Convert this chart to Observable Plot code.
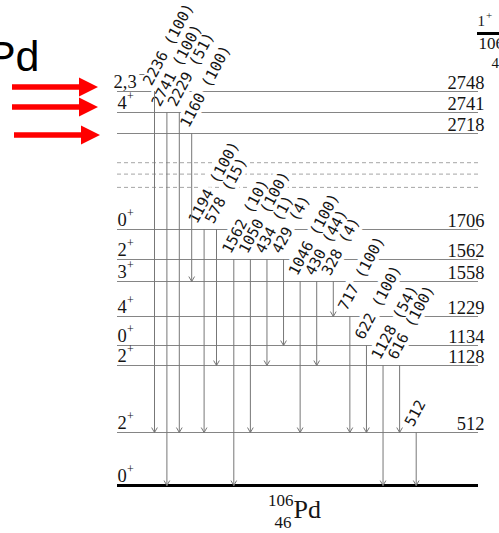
<!DOCTYPE html>
<html>
<head>
<meta charset="utf-8">
<script src="https://cdn.jsdelivr.net/npm/d3@7"></script>
<script src="https://cdn.jsdelivr.net/npm/@observablehq/plot@0.6"></script>
<style>
  html, body { margin: 0; padding: 0; background: #fff; }
</style>
</head>
<body>
<div id="chart"></div>
<script>
// Excited levels of 106Pd (keV), highest first
const levelEnergies = [2748, 2741, 2718, 1706, 1562, 1558, 1229, 1134, 1128, 512, 0];
// Spin and parity of each level ("" where none is assigned)
const levelSpins    = ["2,3", "4", "", "0", "2", "3", "4", "0", "2", "2", "0"];
const levelParities = ["\u2212", "+", "", "+", "+", "+", "+", "+", "+", "+", "+"];
// Unassigned levels, drawn dashed without labels
const tentativeLevels = [2410, 2290, 2150];
// Levels fed directly (red pointers)
const fedLevels = [2748, 2741, 2718];

// Gamma transitions, left to right: energy (keV), relative intensity, initial and final level
const gammaEnergies    = [2236, 2741, 2229, 1160, 1194, 578, 1562, 1050, 434, 429, 1046, 430, 328, 717, 622, 1128, 616, 512];
const gammaIntensities = [100, 100, 51, 100, 100, 15, 10, 100, 1, 4, 100, 44, 4, 100, 100, 54, 100, null];
const gammaFrom        = [2748, 2741, 2741, 2718, 1706, 1706, 1562, 1562, 1562, 1562, 1558, 1558, 1558, 1229, 1134, 1128, 1128, 512];
const gammaTo          = [512, 0, 512, 1558, 512, 1128, 0, 512, 1128, 1134, 512, 1128, 1229, 512, 512, 0, 512, 0];

// Scale setup: transition columns and level rows
const xDomain = [0, 5, 6, 17];
const xRange = [154, 216, 233.3, 415.7];
const yDomain = [0, 512, 1128, 1134, 1229, 1558, 1562, 1706, 2718, 2741, 2748];
const yRange = [485, 432, 365, 345, 316, 281, 259, 229, 133, 112, 91];

const levels = levelEnergies.map((E, i) => ({E, J: levelSpins[i], P: levelParities[i]}));
const gammas = gammaEnergies.map((e, i) => ({
  col: i,
  label: gammaIntensities[i] == null ? `${e}` : `${e} (${gammaIntensities[i]})`,
  from: gammaFrom[i],
  to: gammaTo[i]
}));

// Slanted labels of neighbouring transitions that leave the same level can crowd;
// slide the left one sideways until the two lines of text are far enough apart.
const angle = 62;
const colPx = d3.scaleLinear(xDomain, xRange);
const sinA = Math.sin(angle * Math.PI / 180);
const minGap = 14.5;
gammas.forEach((g, i) => {
  const next = gammas[i + 1];
  let shift = 0;
  if (next && next.from === g.from) {
    const gap = (colPx(next.col) - colPx(g.col)) * sinA;
    if (gap < minGap) shift = (minGap - gap) / sinA;
  }
  g.labelCol = colPx.invert(colPx(g.col) - shift);
});

const serif = "Liberation Serif, Times New Roman, serif";
const mono = "DejaVu Sans Mono, monospace";
const ink = "#151515";
const spinned = levels.filter(d => d.J !== "");
const shortSpin = spinned.filter(d => d.J.length === 1);
const longSpin = spinned.filter(d => d.J.length > 1);

// shared placement of the slanted transition labels
const gammaLabel = {
  x: "labelCol", y: "from", text: "label",
  rotate: -angle, textAnchor: "start", lineAnchor: "bottom",
  dx: -3, dy: -5, fontFamily: mono, fontSize: 15
};

// Red pointers at the fed levels plus the parent level bar at top right
function decorations(index, scales) {
  const y = scales.y;
  const g = d3.create("svg:g");
  const nudge = [-4, -5, 2];
  fedLevels.forEach((e, i) => {
    const cy = y(e) + nudge[i];
    const x0 = i === 2 ? 14 : 12, x1 = x0 + 67, x2 = x0 + 86;
    g.append("path")
      .attr("fill", "#f00")
      .attr("d", `M${x0},${cy - 2.8}H${x1}V${cy - 9.5}L${x2},${cy}L${x1},${cy + 9.5}V${cy + 2.8}H${x0}Z`);
  });
  g.append("line")
    .attr("x1", 477).attr("x2", 505)
    .attr("y1", 33.5).attr("y2", 33.5)
    .attr("stroke", "#000").attr("stroke-width", 3);
  return g.node();
}

const chart = Plot.plot({
  width: 499,
  height: 533,
  marginLeft: 117,
  marginRight: 21,
  marginTop: 0,
  marginBottom: 48,
  style: {background: "white"},
  x: {type: "linear", domain: xDomain, range: xRange, axis: null},
  y: {type: "linear", domain: yDomain, range: yRange, axis: null},
  marks: [
    // level lines
    Plot.ruleY(levels.filter(d => d.E > 0), {y: "E", stroke: "#858585", strokeWidth: 1}),
    Plot.ruleY(tentativeLevels, {stroke: "#a5a5a5", strokeWidth: 1, strokeDasharray: "4,3"}),
    Plot.ruleY([0], {stroke: "#000", strokeWidth: 3}),
    // white masks behind the transition labels, then the labels themselves
    Plot.text(gammas, {...gammaLabel, fill: "white", stroke: "white", strokeWidth: 8, strokeLinejoin: "round"}),
    Plot.text(gammas, {...gammaLabel, fill: ink}),
    // transitions
    Plot.arrow(gammas, {
      x1: "col", x2: "col", y1: "from", y2: "to",
      stroke: "#777", strokeWidth: 1, headLength: 8, headAngle: 60
    }),
    // spin labels
    Plot.text(shortSpin, {y: "E", text: "J", frameAnchor: "left", textAnchor: "start", lineAnchor: "bottom",
      dy: -4, fontFamily: serif, fontSize: 18.5, fill: ink}),
    Plot.text(longSpin, {y: "E", text: "J", frameAnchor: "left", textAnchor: "start", lineAnchor: "bottom",
      dx: -4, dy: -4, fontFamily: serif, fontSize: 18.5, fill: ink}),
    Plot.text(shortSpin, {y: "E", text: "P", frameAnchor: "left", textAnchor: "start", lineAnchor: "bottom",
      dx: 9.5, dy: -13, fontFamily: serif, fontSize: 12, fill: ink}),
    Plot.text(longSpin, {y: "E", text: "P", frameAnchor: "left", textAnchor: "start", lineAnchor: "bottom",
      dx: 21, dy: -14, fontFamily: serif, fontSize: 11, fill: ink}),
    // energy labels
    Plot.text(levels.filter(d => d.E > 0), {y: "E", text: d => String(d.E), frameAnchor: "right",
      textAnchor: "end", lineAnchor: "bottom", dx: 6, dy: -3, fontFamily: serif, fontSize: 18.5, fill: ink}),
    // nuclide label under the ground state
    Plot.text(["106"], {frameAnchor: "bottom", textAnchor: "end", lineAnchor: "bottom", dx: -4.5, dy: 20,
      fontFamily: serif, fontSize: 17, fill: ink}),
    Plot.text(["46"], {frameAnchor: "bottom", textAnchor: "end", lineAnchor: "bottom", dx: -6.5, dy: 42,
      fontFamily: serif, fontSize: 17, fill: ink}),
    Plot.text(["Pd"], {frameAnchor: "bottom", textAnchor: "start", lineAnchor: "bottom", dx: -4.5, dy: 32,
      fontFamily: serif, fontSize: 26, fill: ink}),
    // heading at top left
    Plot.text(["Pd"], {frameAnchor: "top-left", textAnchor: "end", lineAnchor: "bottom", dx: -78, dy: 70,
      fontFamily: "Liberation Sans, Arial, sans-serif", fontSize: 43, fill: "#000"}),
    // parent state at top right
    Plot.text(["1"], {frameAnchor: "top-right", textAnchor: "start", lineAnchor: "bottom", dx: -1, dy: 25,
      fontFamily: serif, fontSize: 15, fill: ink}),
    Plot.text(["+"], {frameAnchor: "top-right", textAnchor: "start", lineAnchor: "bottom", dx: 7.5, dy: 18,
      fontFamily: serif, fontSize: 11, fill: ink}),
    Plot.text(["106"], {frameAnchor: "top-right", textAnchor: "start", lineAnchor: "bottom", dx: 0, dy: 48,
      fontFamily: serif, fontSize: 17, fill: ink}),
    Plot.text(["47"], {frameAnchor: "top-right", textAnchor: "start", lineAnchor: "bottom", dx: 13, dy: 67,
      fontFamily: serif, fontSize: 15, fill: ink}),
    decorations
  ]
});

document.getElementById("chart").appendChild(chart);
</script>
</body>
</html>
